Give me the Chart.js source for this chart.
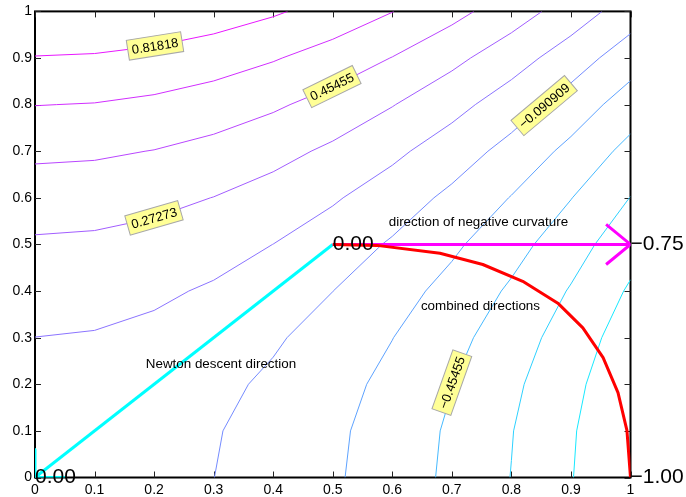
<!DOCTYPE html>
<html><head><meta charset="utf-8">
<script src="https://cdn.jsdelivr.net/npm/chart.js@4/dist/chart.umd.min.js"></script>
<style>html,body{margin:0;padding:0;background:#fff;}#wrap{width:686px;height:497px;}</style>
</head><body><div id="wrap"><canvas id="c" width="686" height="497"></canvas></div>
<script>
// ---- axis ticks ----
const tickValues = [0, 0.1, 0.2, 0.3, 0.4, 0.5, 0.6, 0.7, 0.8, 0.9, 1];
const tickLabels = ["0", "0.1", "0.2", "0.3", "0.4", "0.5", "0.6", "0.7", "0.8", "0.9", "1"];

// ---- contour lines ----
const levelNames = ["0.81818", "0.63636", "0.45455", "0.27273", "0.090909", "-0.090909", "-0.27273", "-0.45455", "-0.63636", "-0.81818"];

const cP818x = [0, 0.1, 0.2, 0.3, 0.4, 0.4242];
const cP818y = [0.9043, 0.9096, 0.9254, 0.9517, 0.9885, 1];

const cP636x = [0, 0.0364, 0.1, 0.2, 0.3, 0.4, 0.4152, 0.5, 0.6, 0.6028];
const cP636y = [0.7976, 0.8, 0.8037, 0.8214, 0.8508, 0.8920, 0.9, 0.9402, 0.9981, 1];

const cP455x = [0, 0.1, 0.1848, 0.2, 0.3, 0.4, 0.4283, 0.5, 0.5959, 0.6, 0.7, 0.7370];
const cP455y = [0.6727, 0.6804, 0.7, 0.7030, 0.7364, 0.7830, 0.8, 0.8380, 0.9, 0.9024, 0.9708, 1];

const cP273x = [0, 0.1, 0.2, 0.2945, 0.3, 0.4, 0.4636, 0.5, 0.6, 0.6056, 0.7, 0.7315, 0.8, 0.8513];
const cP273y = [0.5207, 0.5298, 0.5570, 0.6, 0.6021, 0.6559, 0.7, 0.7218, 0.7952, 0.8, 0.8722, 0.9, 0.9541, 1];

const cP091x = [0, 0.1, 0.2, 0.2582, 0.3, 0.3987, 0.4, 0.5, 0.5174, 0.6, 0.6301, 0.7, 0.7394, 0.8, 0.8465, 0.9, 0.9522];
const cP091y = [0.3013, 0.3156, 0.3584, 0.4, 0.4232, 0.5, 0.5008, 0.5826, 0.6, 0.6699, 0.7, 0.7606, 0.8, 0.8535, 0.9, 0.9478, 1];

const cN091x = [0.3013, 0.3156, 0.3584, 0.4, 0.4232, 0.5, 0.5008, 0.5826, 0.6, 0.6699, 0.7, 0.7606, 0.8, 0.8535, 0.9, 0.9478, 1];
const cN091y = [0, 0.1, 0.2, 0.2582, 0.3, 0.3987, 0.4, 0.5, 0.5174, 0.6, 0.6301, 0.7, 0.7394, 0.8, 0.8465, 0.9, 0.9522];

const cN273x = [0.5207, 0.5298, 0.5570, 0.6, 0.6021, 0.6559, 0.7, 0.7218, 0.7952, 0.8, 0.8722, 0.9, 0.9541, 1];
const cN273y = [0, 0.1, 0.2, 0.2945, 0.3, 0.4, 0.4636, 0.5, 0.6, 0.6056, 0.7, 0.7315, 0.8, 0.8513];

const cN455x = [0.6727, 0.6804, 0.7, 0.7030, 0.7364, 0.7830, 0.8, 0.8380, 0.9, 0.9024, 0.9708, 1];
const cN455y = [0, 0.1, 0.1848, 0.2, 0.3, 0.4, 0.4283, 0.5, 0.5959, 0.6, 0.7, 0.7370];

const cN636x = [0.7976, 0.8, 0.8037, 0.8214, 0.8508, 0.8920, 0.9, 0.9402, 0.9981, 1];
const cN636y = [0, 0.0364, 0.1, 0.2, 0.3, 0.4, 0.4152, 0.5, 0.6, 0.6028];

const cN818x = [0.9043, 0.9096, 0.9254, 0.9517, 0.9885, 1];
const cN818y = [0, 0.1, 0.2, 0.3, 0.4, 0.4242];

// ---- direction paths ----
const newtonX = [0, 0.5];
const newtonY = [0, 0.5];
const originMarkX = [0, 0, 0.05];
const originMarkY = [0.06, 0, 0];
const curvX = [0.5, 1];
const curvY = [0.5, 0.5];
const arrowHeadX = [0.959, 1, 0.959];
const arrowHeadY = [0.543, 0.5, 0.457];
const combinedX = [0.5, 0.574, 0.680, 0.752, 0.819, 0.878, 0.920, 0.954, 0.979, 0.994, 1];
const combinedY = [0.5, 0.498, 0.481, 0.457, 0.421, 0.374, 0.321, 0.257, 0.182, 0.101, 0];

// ---- contour labels ----
const clabText = ["0.81818", "0.45455", "0.27273", "\u22120.090909", "\u22120.45455"];
const clabX = [0.2015, 0.4987, 0.1998, 0.855, 0.700];
const clabY = [0.926, 0.8387, 0.557, 0.798, 0.2036];
const clabAngle = [-9, -26, -16, -40, -70.5];

// ---- text annotations ----
const noteText = ["direction of negative curvature", "combined directions", "Newton descent direction"];
const noteX = [0.594, 0.648, 0.186];
const noteY = [0.547, 0.368, 0.242];
const valText = ["0.00", "\u22120.75", "\u22121.00", "0.00"];
const valX = [0.5, 1, 1, 0];
const valY = [0.5, 0.5, 0, 0];

const FONT = '"Liberation Sans", Arial, Helvetica, sans-serif';
const pts = (xs, ys) => xs.map((x, i) => ({x: x, y: ys[i]}));
function cool(k) { const t = k / 11; return 'rgb(' + Math.round(255 * t) + ',' + Math.round(255 * (1 - t)) + ',255)'; }

const contourSets = [
  [cP818x, cP818y, 10], [cP636x, cP636y, 9], [cP455x, cP455y, 8], [cP273x, cP273y, 7], [cP091x, cP091y, 6],
  [cN091x, cN091y, 5], [cN273x, cN273y, 4], [cN455x, cN455y, 3], [cN636x, cN636y, 2], [cN818x, cN818y, 1]
];

const datasets = [
  {label: 'combined', data: pts(combinedX, combinedY), borderColor: '#ff0000', borderWidth: 3},
  {label: 'curv', data: pts(curvX, curvY), borderColor: '#ff00ff', borderWidth: 3},
  {label: 'arrow', data: pts(arrowHeadX, arrowHeadY), borderColor: '#ff00ff', borderWidth: 3},
  {label: 'newton', data: pts(newtonX, newtonY), borderColor: '#00ffff', borderWidth: 3},
  {label: 'origin', data: pts(originMarkX, originMarkY), borderColor: '#00ffff', borderWidth: 3}
].concat(contourSets.map((c, i) => ({label: levelNames[i], data: pts(c[0], c[1]), borderColor: cool(c[2]), borderWidth: 1})));
datasets.forEach(d => { d.showLine = true; d.pointRadius = 0; d.fill = false; d.tension = 0; d.borderJoinStyle = 'round'; });

const framePlugin = {
  id: 'frame',
  beforeDatasetsDraw(chart) {
    const {ctx, chartArea: a, scales: {x, y}} = chart;
    ctx.save();
    ctx.strokeStyle = '#000'; ctx.lineWidth = 2;
    ctx.strokeRect(a.left, a.top, a.right - a.left, a.bottom - a.top);
    ctx.lineWidth = 1; ctx.strokeStyle = '#222';
    ctx.beginPath();
    tickValues.forEach(v => {
      const px = Math.round(x.getPixelForValue(v)) + 0.5;
      ctx.moveTo(px, a.bottom); ctx.lineTo(px, a.bottom - 6);
      ctx.moveTo(px, a.top); ctx.lineTo(px, a.top + 6);
      const py = Math.round(y.getPixelForValue(v)) + 0.5;
      ctx.moveTo(a.left, py); ctx.lineTo(a.left + 6, py);
      ctx.moveTo(a.right, py); ctx.lineTo(a.right - 6, py);
    });
    ctx.stroke();
    ctx.restore();
  },
  afterDatasetsDraw(chart) {
    const {ctx, scales: {x, y}} = chart;
    ctx.save();
    ctx.font = '13px ' + FONT;
    clabText.forEach((t, i) => {
      ctx.save();
      ctx.translate(x.getPixelForValue(clabX[i]), y.getPixelForValue(clabY[i]));
      ctx.rotate(clabAngle[i] * Math.PI / 180);
      const w = ctx.measureText(t).width + 8, h = 20;
      ctx.fillStyle = 'rgb(255,255,150)';
      ctx.fillRect(-w / 2, -h / 2, w, h);
      ctx.strokeStyle = '#a8a8a8'; ctx.lineWidth = 1;
      ctx.strokeRect(-w / 2, -h / 2, w, h);
      ctx.fillStyle = '#000'; ctx.textAlign = 'center'; ctx.textBaseline = 'middle';
      ctx.fillText(t, 0, 1);
      ctx.restore();
    });
    ctx.font = '13.4px ' + FONT;
    ctx.fillStyle = '#000'; ctx.textAlign = 'left'; ctx.textBaseline = 'middle';
    noteText.forEach((t, i) => ctx.fillText(t, x.getPixelForValue(noteX[i]), y.getPixelForValue(noteY[i])));
    ctx.font = '21px ' + FONT;
    valText.forEach((t, i) => ctx.fillText(t, x.getPixelForValue(valX[i]), y.getPixelForValue(valY[i])));
    ctx.restore();
  }
};

const axisCommon = (pad) => ({
  type: 'linear', min: 0, max: 1,
  grid: {display: false, drawTicks: false},
  border: {display: false},
  afterBuildTicks: s => { s.ticks = tickValues.map(v => ({value: v})); },
  ticks: {autoSkip: false, maxRotation: 0, padding: pad, color: '#000', font: {family: FONT, size: 14},
          callback: (v, i) => tickLabels[i]}
});
const xAxis = axisCommon(4); xAxis.afterFit = s => { s.height = 19.5; };
const yAxis = axisCommon(3); yAxis.afterFit = s => { s.width = 35; };

new Chart(document.getElementById('c'), {
  type: 'scatter',
  data: {datasets: datasets},
  options: {
    responsive: false, animation: false, devicePixelRatio: 1,
    layout: {padding: {top: 8.3, right: 55.5, bottom: 0, left: 0}},
    plugins: {legend: {display: false}, tooltip: {enabled: false}},
    scales: {x: xAxis, y: yAxis}
  },
  plugins: [framePlugin]
});
</script></body></html>
